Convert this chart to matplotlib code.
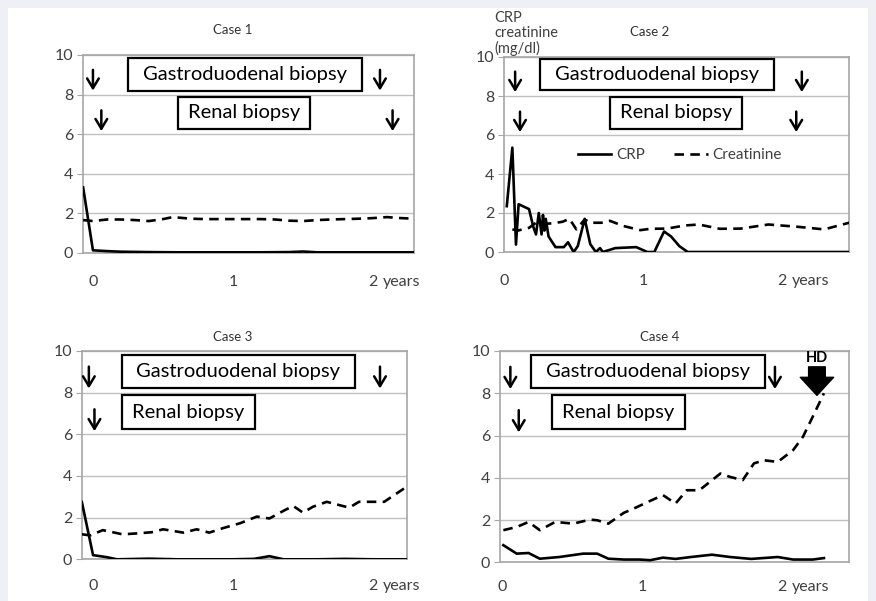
import matplotlib
matplotlib.use("Agg")
import matplotlib.pyplot as plt
from matplotlib.patches import Rectangle

plt.rcParams['font.family'] = ['Lato', 'DejaVu Sans']

# time in years, values in mg/dl
c1_crp_t = [-0.07, 0.0, 0.1, 0.2, 0.4, 0.6, 0.8, 1.0, 1.2, 1.4, 1.5, 1.6, 1.8, 2.0, 2.29]
c1_crp = [3.3, 0.12, 0.08, 0.05, 0.03, 0.02, 0.02, 0.02, 0.02, 0.03, 0.06, 0.02, 0.02, 0.02, 0.02]
c1_cre_t = [-0.07, 0.0, 0.1, 0.2, 0.3, 0.4, 0.5, 0.57, 0.7, 0.8, 0.9, 1.0, 1.1, 1.2,
            1.3, 1.4, 1.5, 1.6, 1.7, 1.8, 1.9, 2.0, 2.1, 2.2, 2.29]
c1_cre = [1.65, 1.6, 1.68, 1.68, 1.65, 1.6, 1.7, 1.8, 1.72, 1.7, 1.7, 1.7, 1.7, 1.7,
          1.68, 1.62, 1.6, 1.65, 1.68, 1.7, 1.72, 1.75, 1.8, 1.75, 1.72]

c2_crp_t = [0.02, 0.06, 0.086, 0.105, 0.18, 0.21, 0.23, 0.25, 0.27, 0.28, 0.29, 0.30,
            0.32, 0.37, 0.43, 0.46, 0.5, 0.53, 0.58, 0.62, 0.66, 0.69, 0.71, 0.8, 0.95,
            1.03, 1.08, 1.15, 1.2, 1.26, 1.32, 2.48]
c2_crp = [2.35, 5.35, 0.38, 2.45, 2.2, 1.3, 0.9, 2.0, 0.9, 1.9, 1.1, 1.7,
          0.8, 0.25, 0.25, 0.5, 0.0, 0.3, 1.7, 0.4, 0.0, 0.2, 0.0, 0.2, 0.25,
          0.0, 0.0, 1.05, 0.8, 0.3, 0.0, 0.0]
c2_cre_t = [0.06, 0.1, 0.18, 0.23, 0.3, 0.35, 0.42, 0.47, 0.52, 0.58, 0.62, 0.7, 0.76,
            0.86, 0.98, 1.05, 1.17, 1.3, 1.4, 1.55, 1.7, 1.9, 2.1, 2.3, 2.48]
c2_cre = [1.16, 1.1, 1.24, 1.5, 1.45, 1.47, 1.55, 1.7, 1.16, 1.67, 1.5, 1.5, 1.6,
          1.33, 1.12, 1.19, 1.2, 1.36, 1.41, 1.19, 1.2, 1.41, 1.3, 1.16, 1.5]

c3_crp_t = [-0.08, 0.0, 0.1, 0.17, 0.4, 0.6, 0.8, 1.0, 1.15, 1.26, 1.36, 1.6, 1.8, 2.0, 2.24]
c3_crp = [2.75, 0.2, 0.1, 0.0, 0.03, 0.0, 0.0, 0.0, 0.02, 0.15, 0.0, 0.0, 0.02, 0.0, 0.0]
c3_cre_t = [-0.08, -0.02, 0.07, 0.21, 0.33, 0.42, 0.5, 0.645, 0.74, 0.83, 0.93, 1.05,
            1.17, 1.26, 1.37, 1.43, 1.5, 1.57, 1.67, 1.76, 1.83, 1.9, 2.08, 2.24]
c3_cre = [1.2, 1.15, 1.4, 1.2, 1.25, 1.3, 1.44, 1.28, 1.44, 1.28, 1.5, 1.73,
          2.05, 1.96, 2.36, 2.56, 2.24, 2.52, 2.76, 2.6, 2.48, 2.76, 2.76, 3.48]

c4_crp_t = [0.01, 0.105, 0.19, 0.27, 0.41, 0.58, 0.68, 0.76, 0.87, 0.98, 1.06, 1.15,
            1.24, 1.35, 1.5, 1.63, 1.78, 1.97, 2.08, 2.22, 2.30]
c4_crp = [0.81, 0.41, 0.44, 0.17, 0.25, 0.41, 0.41, 0.17, 0.13, 0.13, 0.1, 0.22,
          0.16, 0.25, 0.36, 0.25, 0.16, 0.25, 0.13, 0.13, 0.2]
c4_cre_t = [0.01, 0.105, 0.19, 0.27, 0.38, 0.51, 0.63, 0.68, 0.76, 0.87, 0.94, 1.06,
            1.15, 1.24, 1.32, 1.41, 1.56, 1.63, 1.72, 1.8, 1.87, 1.97, 2.08, 2.15,
            2.22, 2.30]
c4_cre = [1.52, 1.67, 1.91, 1.52, 1.91, 1.83, 2.02, 1.99, 1.83, 2.34, 2.54, 2.91,
          3.18, 2.78, 3.41, 3.41, 4.2, 4.04, 3.89, 4.68, 4.83, 4.75, 5.31, 5.94,
          6.89, 8.0]

# biopsy timings (years)
gastro_times = [[0.0, 2.05], [0.08, 2.14], [-0.03, 2.05], [0.06, 1.95]]
renal_times = [[0.06, 2.14], [0.115, 2.10], [0.01], [0.12]]
hd_time = 2.25

titles = ["Case 1", "Case 2", "Case 3", "Case 4"]

TEXT = "#404040"
GRID = "#c0c0c0"
SPINE = "#a6a6a6"
DASH = (0, (3.6, 2.4))

fig = plt.figure(figsize=(8.76, 6.01), dpi=100, facecolor="#eff0f6")
fig.patches.append(Rectangle((8 / 876, 0), 860 / 876, 593 / 601, transform=fig.transFigure,
                             facecolor="white", edgecolor="none", zorder=-5))


def rect(l, r, t, b):
    return [l / 876, (601 - b) / 601, (r - l) / 876, (b - t) / 601]


axes_px = [(83, 414, 55, 252.7), (504, 849, 57, 252), (82, 407, 351, 559.3), (500, 849, 351, 562.3)]
xlims = [(-0.071, 2.293), (0.014, 2.479), (-0.079, 2.243), (-0.014, 2.479)]
xpads = [16, 16, 14, 12.5]
# boxes: (x0, x1, y0, y1) in data units
gastro_box = [(0.25, 1.92, 8.18, 9.85), (0.26, 1.94, 8.31, 9.88), (0.205, 1.87, 8.21, 9.79), (0.21, 1.88, 8.24, 9.8)]
renal_box = [(0.61, 1.55, 6.26, 7.88), (0.76, 1.71, 6.31, 7.95), (0.205, 1.16, 6.25, 7.88), (0.355, 1.31, 6.3, 7.9)]
title_x = [233, 650, 233, 660]
title_y = [30, 32, 337, 337]

series = [(c1_crp_t, c1_crp, c1_cre_t, c1_cre), (c2_crp_t, c2_crp, c2_cre_t, c2_cre),
          (c3_crp_t, c3_crp, c3_cre_t, c3_cre), (c4_crp_t, c4_crp, c4_cre_t, c4_cre)]

for i in range(4):
    ax = fig.add_axes(rect(*axes_px[i]))
    ax.set_zorder(2)
    crp_t, crp, cre_t, cre = series[i]
    ax.plot(crp_t, crp, color="black", lw=1.9, label="CRP", zorder=3)
    ax.plot(cre_t, cre, color="black", lw=1.9, ls=DASH, label="Creatinine", zorder=3)

    ax.set_xlim(*xlims[i])
    ax.set_ylim(0, 10)
    ax.set_yticks(range(0, 11, 2))
    ax.set_xticks([0, 1, 2])
    ax.set_xticklabels(["0", "1", "2"])
    ax.grid(axis="y", color=GRID, lw=1)
    ax.set_axisbelow(True)
    for s in ax.spines.values():
        s.set_color(SPINE)
        s.set_linewidth(1.2)
    ax.tick_params(axis="y", length=4, color=SPINE, pad=3, labelsize=11.5, labelcolor=TEXT)
    ax.tick_params(axis="x", length=0, pad=xpads[i], labelsize=11.5, labelcolor=TEXT)
    ax.annotate("years", xy=(2, 0), xycoords=("data", "axes fraction"), xytext=(7, -xpads[i]),
                textcoords="offset points", ha="left", va="top", fontsize=11.5, color=TEXT)

    fig.text(title_x[i] / 876, 1 - title_y[i] / 601, titles[i], ha="center", va="center",
             fontsize=9.5, color="#333333")

    for (x0, x1, y0, y1), label in [(gastro_box[i], "Gastroduodenal biopsy"),
                                     (renal_box[i], "Renal biopsy")]:
        ax.add_patch(Rectangle((x0, y0), x1 - x0, y1 - y0, facecolor="white",
                               edgecolor="black", lw=1.6, zorder=4))
        ax.text((x0 + x1) / 2, (y0 + y1) / 2, label, ha="center", va="center",
                fontsize=14.5, color="black", zorder=5)

    for t in gastro_times[i]:
        ax.annotate("", xy=(t, 8.2), xytext=(t, 9.25),
                    arrowprops=dict(arrowstyle="->,head_length=0.5,head_width=0.3", lw=1.8,
                                    color="black", shrinkA=0, shrinkB=0, mutation_scale=14),
                    annotation_clip=False, zorder=5)
    for t in renal_times[i]:
        ax.annotate("", xy=(t, 6.15), xytext=(t, 7.2),
                    arrowprops=dict(arrowstyle="->,head_length=0.5,head_width=0.3", lw=1.8,
                                    color="black", shrinkA=0, shrinkB=0, mutation_scale=14),
                    annotation_clip=False, zorder=5)

    if i == 1:
        ax.legend(loc="center left", bbox_to_anchor=(0.214, 0.497), ncol=2, frameon=False,
                  fontsize=11, handlelength=2.2, handletextpad=0.3, columnspacing=1.9,
                  borderpad=0, borderaxespad=0, labelcolor=TEXT)
    if i == 3:
        ax.annotate("", xy=(hd_time, 7.9), xytext=(hd_time, 9.25),
                    arrowprops=dict(arrowstyle="simple,head_length=0.65,head_width=1.2,tail_width=0.6",
                                    color="black", shrinkA=0, shrinkB=0, mutation_scale=20),
                    zorder=6)
        ax.text(hd_time, 9.68, "HD", ha="center", va="center", fontsize=10.5,
                fontweight="bold", color="black", zorder=6)

for k, line in enumerate(["CRP", "creatinine", "(mg/dl)"]):
    fig.text(494 / 876, 1 - (18 + 15 * k) / 601, line, ha="left", va="center",
             fontsize=10.5, color=TEXT)

fig.savefig("out.png", dpi=100, facecolor=fig.get_facecolor())
